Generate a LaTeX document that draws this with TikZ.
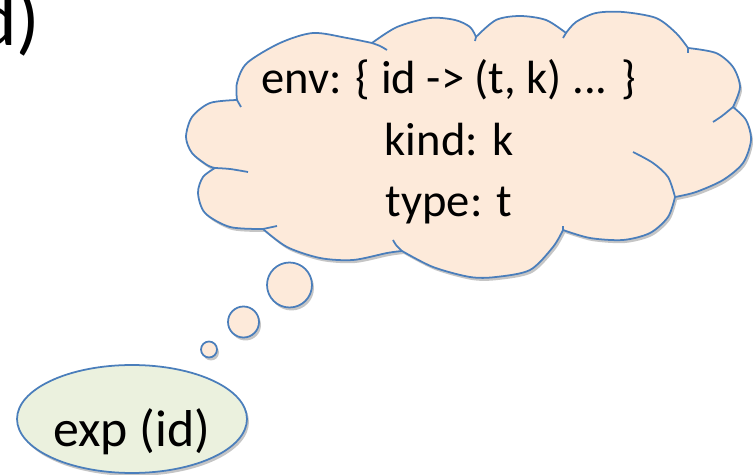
\documentclass[tikz,border=0pt]{standalone}
\usepackage{fontspec}
\setmainfont{Carlito}
\usetikzlibrary{shapes.geometric,shadows}
\definecolor{edgeblue}{HTML}{4A7EBB}
\definecolor{cloudfill}{HTML}{FDEADA}
\definecolor{expfill}{HTML}{EBF1DE}

\begin{document}
\begin{tikzpicture}[x=0.02cm,y=-0.02cm,line width=1pt,
  softshadow/.style={drop shadow={shadow xshift=0.04cm,shadow yshift=-0.06cm,fill=black!45}},
  cloudline/.style={draw=edgeblue,line join=round},
  bubble/.style={draw=edgeblue,circle,fill=cloudfill,inner sep=0pt,softshadow}]
\useasboundingbox (0,0) rectangle (753,475);

\node[anchor=base east,font=\fontsize{44}{52}\selectfont] (title) at (47,46) {d)};

\filldraw[cloudline,fill=cloudfill,softshadow]
  plot[smooth] coordinates {(237,100) (210,103) (192,117) (186,137) (192,153) (207,165) (215,168)}
  -- plot[smooth] coordinates {(215,168) (203,177) (198,193) (205,213) (230,227) (263,229)}
  -- plot[smooth] coordinates {(263,229) (287,247) (320,258) (353,260) (387,253) (402,251)}
  -- plot[smooth] coordinates {(402,251) (433,267) (470,277) (496,277) (530,270) (553,247) (563,230)}
  -- plot[smooth] coordinates {(563,230) (590,238) (623,240) (650,233) (668,217) (675,197)}
  -- plot[smooth] coordinates {(675,197) (696,192) (723,180) (743,163) (751,140) (746,120) (733,107)}
  -- plot[smooth] coordinates {(733,107) (740,87) (733,67) (716,53) (688,48)}
  -- plot[smooth] coordinates {(688,48) (676,33) (656,18) (623,12) (596,13) (576,22) (566,33)}
  -- plot[smooth] coordinates {(566,33) (546,20) (520,16) (496,20) (476,37)}
  -- plot[smooth] coordinates {(476,37) (470,27) (455,20) (430,18) (397,27) (372,43)}
  -- plot[smooth] coordinates {(372,43) (347,38) (313,33) (280,43) (247,63) (237,83) (237,100)}
  -- cycle;

% inner puff lines
\draw[cloudline] plot[smooth] coordinates {(237,100) (241,107)};
\draw[cloudline] plot[smooth] coordinates {(215,168) (230,169) (248,172)};
\draw[cloudline] plot[smooth] coordinates {(263,229) (277,226)};
\draw[cloudline] plot[smooth] coordinates {(402,251) (396,245) (393,240)};
\draw[cloudline] plot[smooth] coordinates {(563,230) (563,226)};
\draw[cloudline] plot[smooth] coordinates {(675,197) (668,177) (653,163) (633,152)};
\draw[cloudline] plot[smooth] coordinates {(733,107) (722,116) (713,122)};
\draw[cloudline] plot[smooth] coordinates {(688,48) (688,53)};
\draw[cloudline] plot[smooth] coordinates {(566,33) (563,38)};
\draw[cloudline] plot[smooth] coordinates {(476,37) (475,41)};
\draw[cloudline] plot[smooth] coordinates {(372,43) (380,46) (387,50)};

\node[align=center,font=\fontsize{26.5}{35}\selectfont] (envtext) at (449,142)
  {env: \{ id -> (t, k) ... \}\\kind: k\\type: t};

\node[bubble,minimum size=0.9cm] (b1) at (289.5,285) {};
\node[bubble,minimum size=0.62cm] (b2) at (243.5,322) {};
\node[bubble,minimum size=0.32cm] (b3) at (209,349.5) {};

\node[draw=edgeblue,ellipse,fill=expfill,inner sep=0pt,
  minimum width=4.6cm,minimum height=2.16cm,softshadow] (expr) at (132,419) {};
\node[font=\fontsize{29.5}{35}\selectfont] (exptext) at (132,432) {exp (id)};

\end{tikzpicture}
\end{document}
